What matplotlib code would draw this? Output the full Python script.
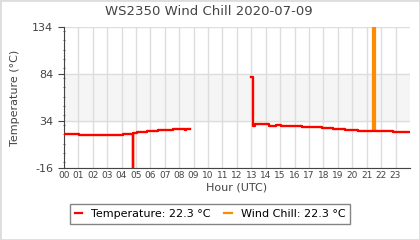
import matplotlib
matplotlib.use("Agg")
import matplotlib.pyplot as plt
from matplotlib.patches import Rectangle
from matplotlib.ticker import MultipleLocator
import numpy as np

nan = np.nan

# temperatur (deg C), stufenweise gemessen
temp_hours = [0.0, 1.05, 4.1, 4.78, 4.83, 5.05, 5.74, 6.53, 7.57, 8.4, 8.5, 8.75,
              13.0, 13.1, 13.28, 14.26, 14.7, 15.07, 16.5, 17.9, 18.7, 19.5,
              20.4, 22.8, 24.0]
temp_values = [20.2, 19.1, 20.5, -16, 21.6, 22.6, 23.7, 24.7, 25.8, 24.7, 25.8, nan,
               80.5, 28.7, 30.5, 29.0, 30.1, 29.0, 27.9, 26.9, 25.8, 24.7,
               23.7, 22.6, 22.6]

# windchill: wie temperatur, plus ausreisser um 21:25
chill_hours = [0.0, 1.05, 4.1, 4.78, 4.83, 5.05, 5.74, 6.53, 7.57, 8.4, 8.5, 8.75,
               13.0, 13.1, 13.28, 14.26, 14.7, 15.07, 16.5, 17.9, 18.7, 19.5,
               20.4, 21.42, 21.55, 22.8, 24.0]
chill_values = [20.2, 19.1, 20.5, -16, 21.6, 22.6, 23.7, 24.7, 25.8, 24.7, 25.8, nan,
                80.5, 28.7, 30.5, 29.0, 30.1, 29.0, 27.9, 26.9, 25.8, 24.7,
                23.7, 140.0, 23.7, 22.6, 22.6]

hour_labels = ["%02d" % h for h in range(24)]
y_ticks = [-16, 34, 84, 134]
last_temp = 22.3
last_chill = 22.3

txt = "#444444"

fig = plt.figure(figsize=(4.2, 2.4), dpi=100)
ax = fig.add_axes([0.152, 0.30, 0.824, 0.5875])

ax.axhspan(34, 84, color="#f5f5f5", zorder=0)
ax.step(chill_hours, chill_values, where="post", color="#ff8c00", lw=1.6,
        label="Wind Chill: %.1f °C" % last_chill, zorder=3)
ax.step(temp_hours, temp_values, where="post", color="#ff0000", lw=1.6,
        label="Temperature: %.1f °C" % last_temp, zorder=4)

ax.set_xlim(0, 24)
ax.set_ylim(-16, 134)
ax.set_xticks(range(24))
ax.set_xticklabels(hour_labels, fontsize=6.5, color=txt)
ax.set_yticks(y_ticks)
ax.set_yticklabels([str(v) for v in y_ticks], fontsize=8, color=txt)
ax.yaxis.set_minor_locator(MultipleLocator(10))
ax.tick_params(axis="x", length=0, pad=2)
ax.tick_params(axis="y", which="major", length=4, color=txt)
ax.tick_params(axis="y", which="minor", length=2, direction="inout", color=txt)

ax.grid(True, which="major", color="#dddddd", lw=1)
ax.set_axisbelow(True)
for s in ["top", "right"]:
    ax.spines[s].set_visible(False)
for s in ["left", "bottom"]:
    ax.spines[s].set_color(txt)

fig.text(0.497, 0.952, "WS2350 Wind Chill 2020-07-09", fontsize=9.5, color=txt,
         ha="center", va="center")
ax.set_xlabel("Hour (UTC)", fontsize=8, color=txt, labelpad=2)
ax.set_ylabel("Temperature (°C)", fontsize=8, color=txt, labelpad=9)

h, l = ax.get_legend_handles_labels()
leg = fig.legend(h[::-1], l[::-1], loc="center", bbox_to_anchor=(0.5, 0.108), ncol=2,
                 fontsize=8, frameon=True, fancybox=False, handlelength=0.7,
                 handletextpad=0.8, columnspacing=1.2, borderpad=0.45)
leg.get_frame().set_edgecolor("#666666")
leg.get_frame().set_linewidth(1)

fig.patches.append(Rectangle((0, 0), 1, 1, transform=fig.transFigure, fill=False,
                             edgecolor="#dddddd", lw=2))

fig.savefig("out.png", dpi=100)
